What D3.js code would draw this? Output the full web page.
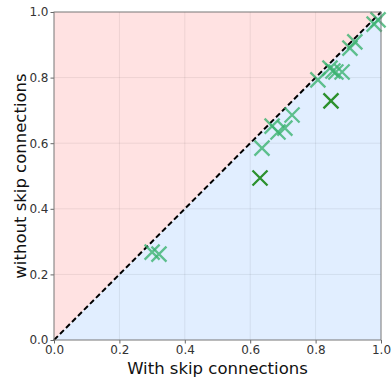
<!DOCTYPE html>
<html>
<head>
<meta charset="utf-8">
<script src="https://cdn.jsdelivr.net/npm/d3@7"></script>
<style>
  html, body { margin: 0; padding: 0; background: #fff; }
  svg { display: block; font-family: "DejaVu Sans", sans-serif; }
</style>
</head>
<body>
<svg id="chart" width="391" height="381"></svg>
<script>
// Accuracy per task: with skip connections (x) vs without (y)
const withSkip    = [0.300, 0.321, 0.636, 0.667, 0.685, 0.706, 0.728, 0.807, 0.844, 0.853, 0.862, 0.881, 0.905, 0.920, 0.979, 0.991];
const withoutSkip = [0.268, 0.262, 0.585, 0.652, 0.634, 0.646, 0.686, 0.793, 0.829, 0.820, 0.817, 0.817, 0.890, 0.909, 0.963, 0.976];
// Outlier tasks, drawn in a darker green
const outlierWith    = [0.630, 0.847];
const outlierWithout = [0.494, 0.729];
const tickValues = [0.0, 0.2, 0.4, 0.6, 0.8, 1.0];

const svg = d3.select("#chart");
const margin = { left: 54, right: 10, top: 12, bottom: 41 };
const W = 391, H = 381;

const x = d3.scaleLinear().domain([0, 1]).range([margin.left, W - margin.right]);
const y = d3.scaleLinear().domain([0, 1]).range([H - margin.bottom, margin.top]);

// Region shading: above diagonal (worse with skip) and below
svg.append("path")
  .attr("d", `M${x(0)},${y(0)} L${x(0)},${y(1)} L${x(1)},${y(1)} Z`)
  .attr("fill", "#ffe2e2");
svg.append("path")
  .attr("d", `M${x(0)},${y(0)} L${x(1)},${y(0)} L${x(1)},${y(1)} Z`)
  .attr("fill", "#e1eeff");

// Grid
const grid = svg.append("g").attr("stroke", "#000").attr("stroke-opacity", 0.07).attr("stroke-width", 1);
tickValues.slice(1, -1).forEach(v => {
  grid.append("line").attr("x1", x(v)).attr("x2", x(v)).attr("y1", y(0)).attr("y2", y(1));
  grid.append("line").attr("x1", x(0)).attr("x2", x(1)).attr("y1", y(v)).attr("y2", y(v));
});

// Diagonal reference line
svg.append("line")
  .attr("x1", x(0)).attr("y1", y(0)).attr("x2", x(1)).attr("y2", y(1))
  .attr("stroke", "#000").attr("stroke-width", 2).attr("stroke-dasharray", "5.5,3");

// Markers as "x" crosses
function crosses(xs, ys, color, opacity) {
  const r = 7.5;
  const g = svg.append("g");
  xs.forEach((xv, i) => {
    const cx = x(xv), cy = y(ys[i]);
    g.append("path")
      .attr("d", `M${cx - r},${cy - r}L${cx + r},${cy + r}M${cx - r},${cy + r}L${cx + r},${cy - r}`)
      .attr("stroke", color).attr("stroke-opacity", opacity)
      .attr("stroke-width", 2.3).attr("fill", "none");
  });
}
crosses(withSkip, withoutSkip, "#3cb371", 0.8);
crosses(outlierWith, outlierWithout, "#228b22", 0.95);

// Axes
const fmt = d3.format(".1f");
const xAxis = svg.append("g").attr("transform", `translate(0,${y(0)})`)
  .call(d3.axisBottom(x).tickValues(tickValues).tickFormat(fmt).tickSize(3.5).tickPadding(2));
const yAxis = svg.append("g").attr("transform", `translate(${x(0)},0)`)
  .call(d3.axisLeft(y).tickValues(tickValues).tickFormat(fmt).tickSize(3.5).tickPadding(2));
[xAxis, yAxis].forEach(a => {
  a.selectAll("text").attr("font-size", 12).attr("fill", "#333").attr("font-family", "DejaVu Sans");
  a.selectAll(".tick line").attr("stroke", "#666");
  a.select(".domain").remove();
});

// Frame
svg.append("rect")
  .attr("x", x(0)).attr("y", y(1)).attr("width", x(1) - x(0)).attr("height", y(0) - y(1))
  .attr("fill", "none").attr("stroke", "#777").attr("stroke-width", 1);

// Axis titles
svg.append("text")
  .attr("x", (x(0) + x(1)) / 2).attr("y", 374)
  .attr("text-anchor", "middle").attr("font-size", 16.5).attr("fill", "#111")
  .text("With skip connections");
svg.append("text")
  .attr("transform", `translate(26,${(y(0) + y(1)) / 2}) rotate(-90)`)
  .attr("text-anchor", "middle").attr("font-size", 16.5).attr("fill", "#111")
  .text("without skip connections");
</script>
</body>
</html>
